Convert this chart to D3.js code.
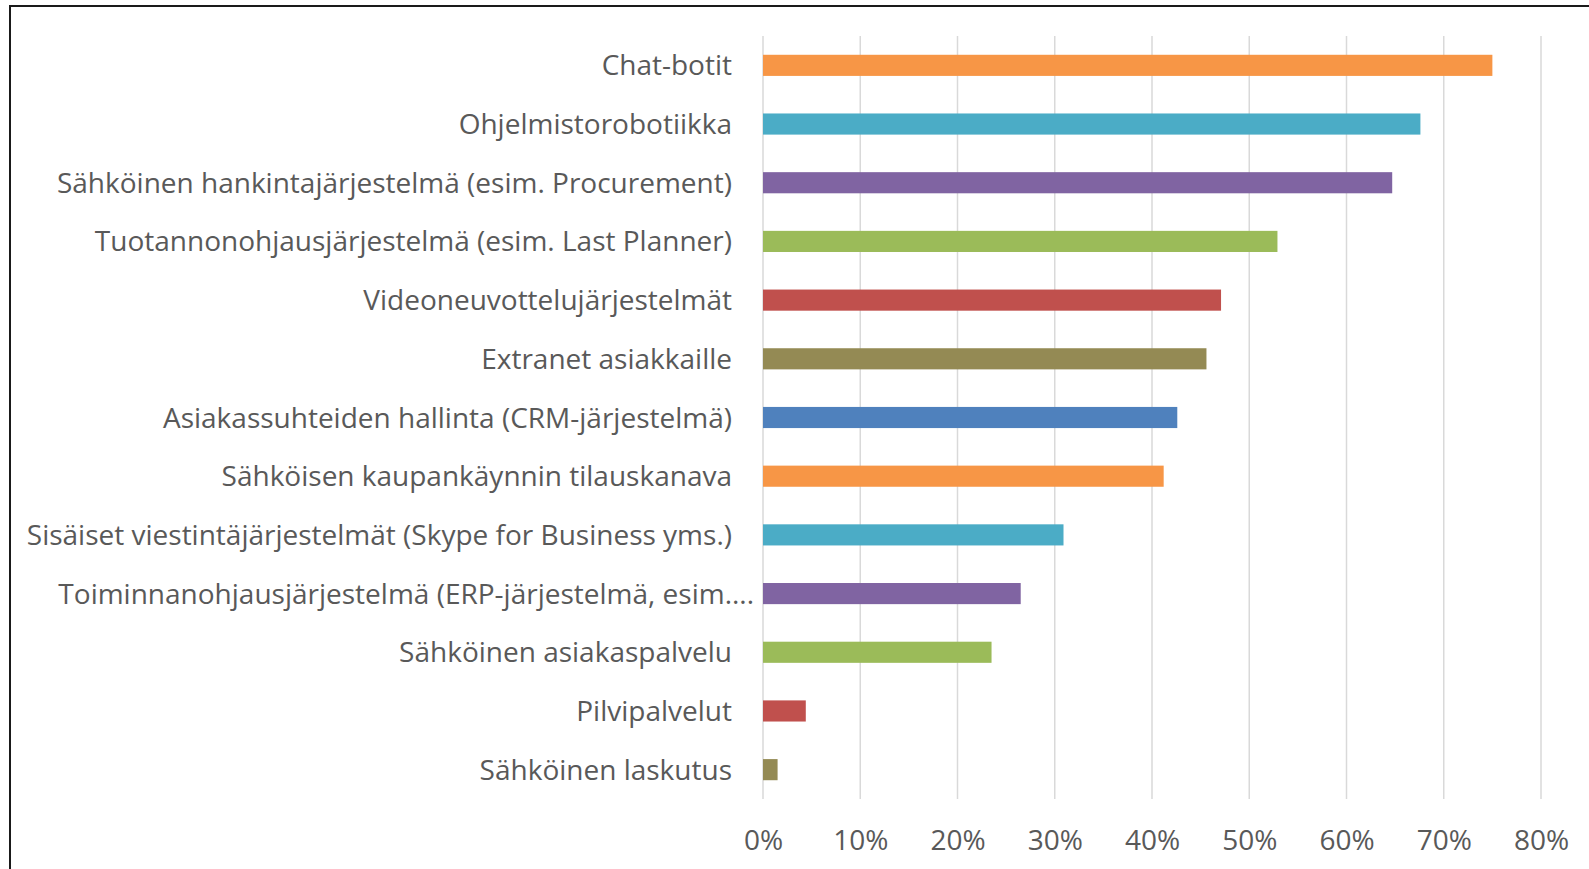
<!DOCTYPE html>
<html>
<head>
<meta charset="utf-8">
<script src="https://cdn.jsdelivr.net/npm/d3@7"></script>
<style>
  html, body { margin: 0; padding: 0; background: #fff; }
  svg { display: block; }
  text { font-family: "Open Sans", "Noto Sans", sans-serif; fill: #595959; }
</style>
</head>
<body>
<svg id="chart" width="1589" height="869"></svg>
<script>
// Digital tools in use (share of respondents, %)
const categories = [
  "Chat-botit",
  "Ohjelmistorobotiikka",
  "Sähköinen hankintajärjestelmä (esim. Procurement)",
  "Tuotannonohjausjärjestelmä (esim. Last Planner)",
  "Videoneuvottelujärjestelmät",
  "Extranet asiakkaille",
  "Asiakassuhteiden hallinta (CRM-järjestelmä)",
  "Sähköisen kaupankäynnin tilauskanava",
  "Sisäiset viestintäjärjestelmät (Skype for Business yms.)",
  "Toiminnanohjausjärjestelmä (ERP-järjestelmä, esim.",
  "Sähköinen asiakaspalvelu",
  "Pilvipalvelut",
  "Sähköinen laskutus"
];
const values = [75.0, 67.6, 64.7, 52.9, 47.1, 45.6, 42.6, 41.2, 30.9, 26.5, 23.5, 4.4, 1.5];
// labels cut short by the axis get an ellipsis
const truncated = [false, false, false, false, false, false, false, false, false, true, false, false, false];
const tickValues = [0, 10, 20, 30, 40, 50, 60, 70, 80];

const palette = ["#F79646", "#4BACC6", "#8064A2", "#9BBB59", "#C0504D", "#948A54", "#4F81BD"];

const svg = d3.select("#chart");
const W = 1589, H = 869;
const plot = { left: 763, right: 1541, top: 36, bottom: 799 };

// outer frame (top and left edges)
svg.append("path")
  .attr("d", `M10,${H} L10,6 L${W},6`)
  .attr("fill", "none")
  .attr("stroke", "#1a1a1a")
  .attr("stroke-width", 2);

const x = d3.scaleLinear().domain([0, 80]).range([plot.left, plot.right]);
const y = d3.scaleBand().domain(categories).range([plot.top, plot.bottom])
  .paddingInner(0.64).paddingOuter(0.32);

// vertical gridlines
svg.append("g").selectAll("line").data(tickValues).join("line")
  .attr("x1", d => x(d)).attr("x2", d => x(d))
  .attr("y1", plot.top).attr("y2", plot.bottom)
  .attr("stroke", "#D9D9D9").attr("stroke-width", 1.5);

// bars
svg.append("g").selectAll("rect").data(values).join("rect")
  .attr("x", x(0))
  .attr("y", (d, i) => y(categories[i]))
  .attr("width", d => x(d) - x(0))
  .attr("height", y.bandwidth())
  .attr("fill", (d, i) => palette[i % palette.length]);

// category labels
const fontSize = 28;
const labelX = plot.left - 31;
const lab = svg.append("g").selectAll("g").data(categories).join("g")
  .attr("transform", d => `translate(${labelX},${y(d) + y.bandwidth() / 2 + 10})`);
lab.append("text")
  .attr("text-anchor", "end")
  .attr("font-size", fontSize)
  .text(d => d);
lab.filter((d, i) => truncated[i]).append("text")
  .attr("text-anchor", "start")
  .attr("font-size", fontSize)
  .text("...");

// x axis tick labels
const xAxis = d3.axisBottom(x).tickValues(tickValues).tickFormat(d => d + "%").tickSize(0).tickPadding(0);
const ax = svg.append("g").attr("transform", `translate(0,${plot.bottom})`).call(xAxis);
ax.select(".domain").remove();
ax.selectAll("text")
  .attr("font-size", fontSize)
  .attr("dy", null)
  .attr("y", 51)
  .style("font-family", '"Open Sans", "Noto Sans", sans-serif')
  .attr("fill", "#595959");
</script>
</body>
</html>
